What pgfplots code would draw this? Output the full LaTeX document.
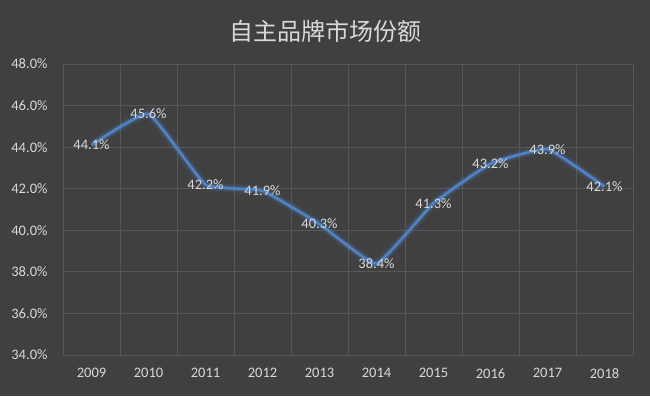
\documentclass[border=0pt]{standalone}
\usepackage{pgfplots}
\pgfplotsset{compat=1.18}
\usepackage{fontspec}
\setmainfont{Carlito}
\newfontfamily\cjk{Noto Sans CJK SC}
\definecolor{bg}{HTML}{404040}
\definecolor{txt}{HTML}{D9D9D9}
\definecolor{grd}{HTML}{575757}
\definecolor{ln}{HTML}{4F82C4}
\pgfplotstableread{
x y
0 44.1
1 45.6
2 42.2
3 41.9
4 40.3
5 38.4
6 41.3
7 43.2
8 43.9
9 42.1
}\share
\begin{document}
\begin{tikzpicture}
\useasboundingbox (0pt,0pt) rectangle (650pt,396pt);
\fill[bg] (0pt,0pt) rectangle (650pt,396pt);
\coordinate (o) at (63pt,41pt);
\node[text=txt,font=\cjk\fontsize{24}{27}\selectfont] at (325pt,365pt) {自主品牌市场份额};
\begin{axis}[
  at={(o)}, anchor=south west,
  width=570pt, height=291pt, scale only axis,
  xmin=-0.5, xmax=9.5, ymin=34, ymax=48,
  axis line style={draw=none},
  xtick={0,...,9},
  xticklabels={2009,2010,2011,2012,2013,2014,2015,2016,2017,2018},
  minor xtick={-0.5,0.5,...,9.5},
  xminorgrids, ymajorgrids,
  minor grid style={grd, line width=0.8pt},
  major grid style={grd, line width=0.8pt},
  ytick={34,36,...,48},
  major tick length=0pt, minor tick length=0pt,
  tick style={draw=none},
  yticklabel={\pgfmathprintnumber[fixed,fixed zerofill,precision=1]{\tick}\%},
  /pgf/number format/assume math mode=true,
  ticklabel style={text=txt, font=\fontsize{14.5}{16}\selectfont},
  xticklabel style={yshift=-10pt},
  yticklabel style={xshift=-12pt},
  clip=false,
]
\addplot[ln, opacity=0.07, line width=10pt, smooth, tension=0.22] table {\share};
\addplot[ln, opacity=0.12, line width=7pt, smooth, tension=0.22] table {\share};
\addplot[ln, opacity=0.2, line width=5pt, smooth, tension=0.22] table {\share};
\addplot[ln, line width=2.6pt, smooth, tension=0.22,
  nodes near coords={\pgfmathprintnumber[fixed,fixed zerofill,precision=1]{\pgfplotspointmeta}\%},
  every node near coord/.append style={anchor=center, text=txt, font=\fontsize{14.5}{16}\selectfont},
  point meta=explicit symbolic] table[meta=y] {\share};
\end{axis}
\end{tikzpicture}
\end{document}
